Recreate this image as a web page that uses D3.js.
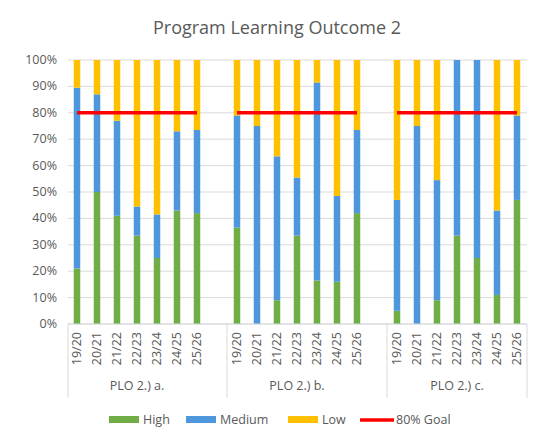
<!DOCTYPE html>
<html><head><meta charset="utf-8">
<script src="https://cdn.jsdelivr.net/npm/d3@7"></script>
<style>body{margin:0;background:#fff}text{font-family:"Open Sans",sans-serif;fill:#595959}</style>
</head><body><svg id="c" width="555" height="444"></svg>
<script>
const groups = ["PLO 2.) a.", "PLO 2.) b.", "PLO 2.) c."];
const years = ["19/20","20/21","21/22","22/23","23/24","24/25","25/26"];
const high = [
  [21,50,41,33.5,25,43,42],
  [36.5,0,9,33.5,16.5,16,42],
  [5,0,9,33.5,25,11,47]];
const medium = [
  [68.5,37,36,11,16.5,30,31.5],
  [42.5,75,54.5,22,75,32.5,31.5],
  [42,75,45.5,66.5,75,32,32]];
const goal = 80;
const yTicks = [0,10,20,30,40,50,60,70,80,90,100];
const seriesNames = ["High","Medium","Low","80% Goal"];
const colors = {High:"#70ad47",Medium:"#4e97dc","Low":"#ffc000",Goal:"#ff0000"};

const svg = d3.select("#c");
const L=68, R=527, T=60, B=324;
// slots: each group 7 years + a blank except last
const slots=[];
groups.forEach((g,gi)=>{years.forEach(y=>slots.push(gi+"|"+y)); if(gi<groups.length-1) slots.push("blank"+gi);});
const x = d3.scaleBand().domain(slots).range([L-1,R]).paddingInner(0).paddingOuter(0);
const y = d3.scaleLinear().domain([0,100]).range([B,T]);

// gridlines
svg.append("g").selectAll("line").data(yTicks).join("line")
  .attr("x1",L).attr("x2",R).attr("y1",d=>y(d)).attr("y2",d=>y(d))
  .attr("stroke","#d9d9d9").attr("stroke-width",1);
svg.append("g").selectAll("text").data(yTicks).join("text")
  .attr("x",L-11).attr("y",d=>y(d)+4).attr("text-anchor","end").attr("font-size",12.5).text(d=>d+"%");

const bw=6.5;
groups.forEach((g,gi)=>{
  years.forEach((yr,i)=>{
    const cx = x(gi+"|"+yr)+x.bandwidth()/2;
    const h=high[gi][i], m=medium[gi][i];
    const segs=[[0,h,colors.High],[h,h+m,colors.Medium],[h+m,100,colors.Low]];
    segs.forEach(([a,b,c])=>{ if(b>a) svg.append("rect").attr("x",cx-bw/2).attr("width",bw)
      .attr("y",y(b)).attr("height",y(a)-y(b)).attr("fill",c);});
    svg.append("text").attr("transform",`translate(${cx+4},${B+8}) rotate(-90)`)
      .attr("text-anchor","end").attr("font-size",12.5).text(yr);
  });
  const x1=x(gi+"|"+years[0])+x.bandwidth()/2, x2=x(gi+"|"+years[6])+x.bandwidth()/2;
  svg.append("line").attr("x1",x1).attr("x2",x2).attr("y1",y(goal)).attr("y2",y(goal))
    .attr("stroke",colors.Goal).attr("stroke-width",3.5);
  const gx0=x(gi+"|"+years[0]), gx1= gi<groups.length-1 ? x("blank"+gi)+x.bandwidth() : R;
  svg.append("text").attr("x",(gx0+gx1)/2 - (gi<2?10:0)).attr("y",B+66).attr("text-anchor","middle").attr("font-size",12.5).text(g);
});
// axis lines
svg.append("line").attr("x1",L).attr("x2",R).attr("y1",B).attr("y2",B).attr("stroke","#d9d9d9");
[L, x("blank0")+x.bandwidth(), x("blank1")+x.bandwidth(), R].forEach(v=>
  svg.append("line").attr("x1",v).attr("x2",v).attr("y1",B).attr("y2",B+74).attr("stroke","#d9d9d9"));

svg.append("text").attr("x",277).attr("y",34).attr("text-anchor","middle").attr("font-size",18).text("Program Learning Outcome 2");

// legend
const leg=[{n:"High",x:109,c:colors.High},{n:"Medium",x:186,c:colors.Medium},{n:"Low",x:288,c:colors.Low}];
leg.forEach(d=>{svg.append("rect").attr("x",d.x).attr("y",416).attr("width",30).attr("height",7).attr("fill",d.c);
  svg.append("text").attr("x",d.x+34).attr("y",424).attr("font-size",12.5).text(d.n);});
svg.append("line").attr("x1",360).attr("x2",394).attr("y1",420).attr("y2",420).attr("stroke",colors.Goal).attr("stroke-width",3.5);
svg.append("text").attr("x",396).attr("y",424).attr("font-size",12.5).text(seriesNames[3]);
</script></body></html>
